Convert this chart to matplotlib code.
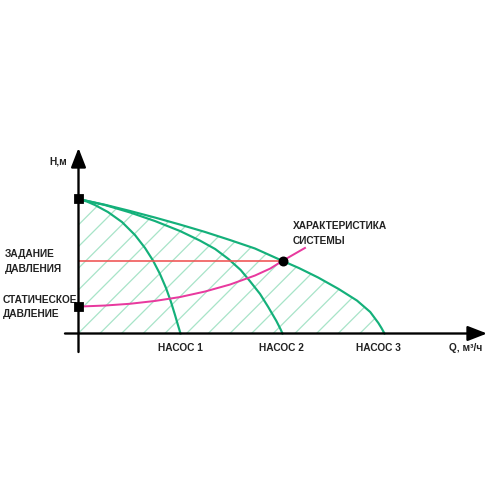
import matplotlib
matplotlib.use("Agg")
import matplotlib.pyplot as plt

# ---- data ----
pump1_q = [0.0, 0.083, 0.162, 0.289, 0.426, 0.554, 0.652, 0.730, 0.799, 0.858, 0.907, 0.946, 0.975, 1.0]
pump1_h = [10.0, 9.81, 9.55, 9.03, 8.29, 7.32, 6.36, 5.43, 4.42, 3.38, 2.34, 1.38, 0.63, 0.0]

pump2_q = [0.0, 0.26, 0.505, 0.75, 0.995, 1.19, 1.34, 1.47, 1.59, 1.68, 1.78, 1.86, 1.94, 1.98, 2.0]
pump2_h = [10.0, 9.55, 9.00, 8.36, 7.62, 6.91, 6.28, 5.54, 4.72, 3.90, 2.94, 1.97, 0.93, 0.33, 0.0]

pump3_q = [0.0, 0.26, 0.505, 0.75, 0.995, 1.24, 1.485, 1.73, 2.0, 2.16, 2.35, 2.55, 2.73, 2.86, 2.94, 2.97, 3.0]
pump3_h = [10.0, 9.57, 9.11, 8.62, 8.10, 7.55, 6.95, 6.32, 5.4, 4.87, 4.16, 3.31, 2.45, 1.60, 0.78, 0.41, 0.0]

system_q = [0.0, 0.26, 0.505, 0.75, 0.995, 1.24, 1.485, 1.73, 1.88, 2.0, 2.22]
system_h = [2.0, 2.08, 2.21, 2.42, 2.71, 3.12, 3.64, 4.31, 4.83, 5.4, 6.36]

h_max = 10.0
h_set = 5.4
h_static = 2.0
q_work = 2.0

pump_labels = ["НАСОС 1", "НАСОС 2", "НАСОС 3"]
pump_label_q = [1.0, 1.99, 2.94]

# ---- style ----
GREEN = "#14b07a"
HATCH = "#a8e4c8"
RED = "#f05555"
MAGENTA = "#e8399e"

plt.rcParams["hatch.linewidth"] = 0.7

DPI = 130
fig = plt.figure(figsize=(500 / DPI, 500 / DPI), dpi=DPI)
ax = fig.add_axes([0, 0, 1, 1])
sx, sy = 102.0, 13.45
ox, oy = 78.5, 333.5
ax.set_xlim(-ox / sx, (500 - ox) / sx)
ax.set_ylim(-(500 - oy) / sy, oy / sy)
ax.axis("off")

# hatched area under pump 3
ax.fill_between(pump3_q, 0, pump3_h, facecolor="none", edgecolor=HATCH,
                hatch="//", linewidth=0, zorder=1)

# axes arrows
akw = dict(arrowstyle="-|>,head_length=0.9,head_width=0.35", color="black", lw=1.3,
           shrinkA=0, shrinkB=0)
ax.annotate("", xy=(0, (oy - 148) / sy), xytext=(0, (oy - 352) / sy), arrowprops=akw, zorder=5)
ax.annotate("", xy=((487 - ox) / sx, 0), xytext=((65 - ox) / sx, 0), arrowprops=akw, zorder=5)

# pump curves
for q, h in [(pump1_q, pump1_h), (pump2_q, pump2_h), (pump3_q, pump3_h)]:
    ax.plot(q, h, color=GREEN, lw=1.2, zorder=3, solid_joinstyle="round")

# set pressure line
ax.plot([0, q_work], [h_set, h_set], color=RED, lw=0.9, zorder=3)
# system curve
ax.plot(system_q, system_h, color=MAGENTA, lw=1.1, zorder=3, solid_joinstyle="round")

# markers
ax.plot([0, 0], [h_max, h_static], "s", color="black", ms=4.2, zorder=6)
ax.plot([q_work], [h_set], "o", color="black", ms=4.5, zorder=6)

# texts
fam = ["Liberation Sans", "DejaVu Sans"]
tkw = dict(fontsize=5.6, fontweight="bold", family=fam, color="#222222")
ax.text((67 - ox) / sx, (oy - 161) / sy, "H,м", ha="right", va="center", **tkw)
ax.text((5 - ox) / sx, (oy - 261.5) / sy, "ЗАДАНИЕ\nДАВЛЕНИЯ", ha="left", va="center",
        linespacing=1.6, **tkw)
ax.text((3 - ox) / sx, (oy - 307) / sy, "СТАТИЧЕСКОЕ\nДАВЛЕНИЕ", ha="left", va="center",
        linespacing=1.6, **tkw)
ax.text((293 - ox) / sx, (oy - 233.5) / sy, "ХАРАКТЕРИСТИКА\nСИСТЕМЫ", ha="left", va="center",
        linespacing=1.6, **tkw)
for lab, q in zip(pump_labels, pump_label_q):
    ax.text(q, (oy - 348) / sy, lab, ha="center", va="center", **tkw)
ax.text((466 - ox) / sx, (oy - 348) / sy, "Q, м³/ч", ha="center", va="center", **tkw)

fig.savefig("out.png", dpi=DPI, facecolor="white")
